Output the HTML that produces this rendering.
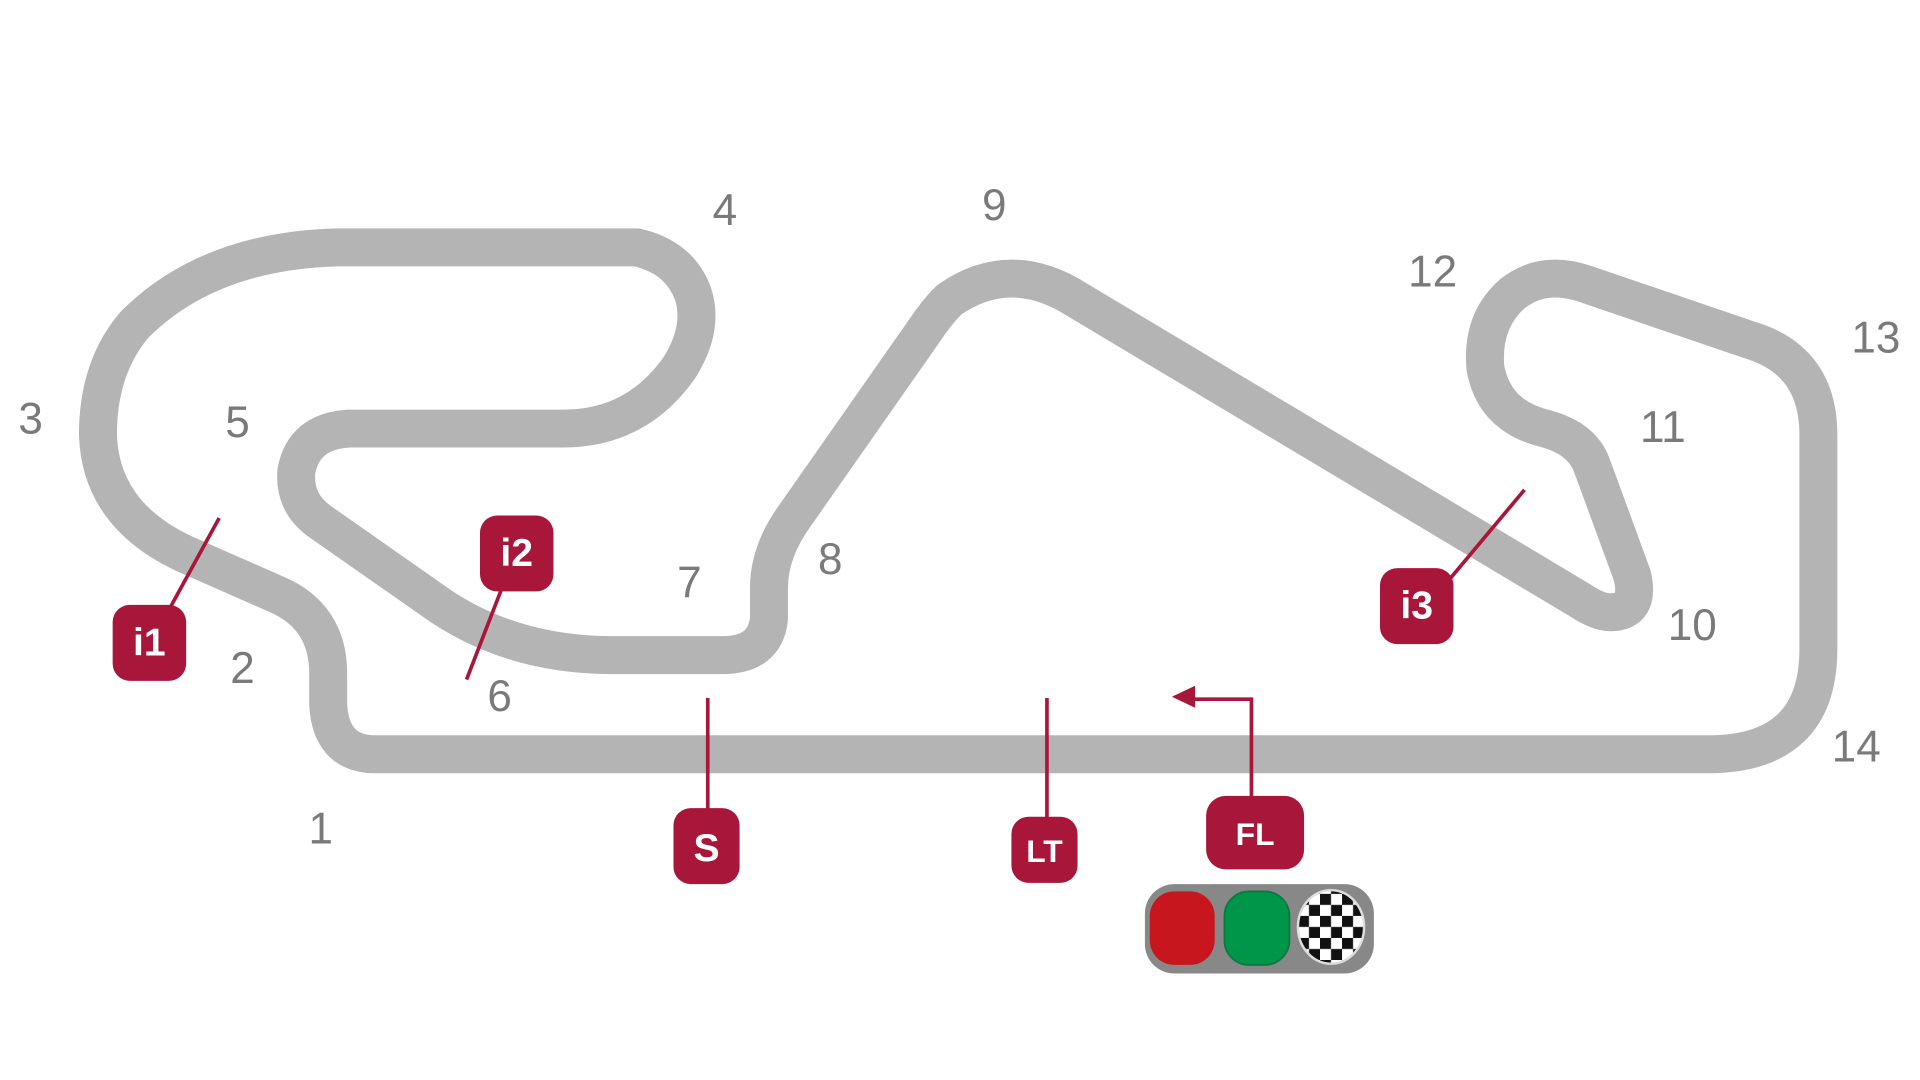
<!DOCTYPE html>
<html><head><meta charset="utf-8"><style>
html,body{margin:0;padding:0;background:#fff;width:1920px;height:1080px;overflow:hidden}
svg{display:block}
.n{font-family:"Liberation Sans",sans-serif;font-size:36px;fill:#7a7a7a;text-anchor:middle;dominant-baseline:central}
.m{font-family:"Liberation Sans",sans-serif;font-weight:bold;fill:#fff;text-anchor:middle;dominant-baseline:central}
</style></head><body>
<svg width="1920" height="1080" viewBox="0 0 1568 882" preserveAspectRatio="none">
<defs>
<pattern id="ck" x="1060" y="730" width="18" height="18" patternUnits="userSpaceOnUse">
<rect width="18" height="18" fill="#fff"/><rect width="9" height="9" fill="#111"/><rect x="9" y="9" width="9" height="9" fill="#111"/>
</pattern>
</defs>
<path d="M305 616 L1395 616 Q1485 616 1485 530 L1485 355 Q1485 295 1430 278 L1295 232 Q1260 220 1235 240 Q1210 262 1213 300 Q1220 340 1262 350 Q1292 358 1300 380 L1333 470 Q1340 500 1315 500 Q1305 500 1290 490 L880 245 Q825 210 775 245 Q765 255 755 270 L650 420 Q628 450 628 480 L628 505 Q625 535 590 535 L500 535 Q420 535 360 495 L260 425 Q240 410 242 385 Q248 352 285 350 L460 350 Q520 350 555 300 Q575 268 566 240 Q555 210 520 202 L275 202 Q170 205 110 265 Q80 300 80 355 Q82 420 150 452 L225 485 Q268 503 268 550 L268 575 Q270 615 305 616 Z" fill="none" stroke="#b5b4b5" stroke-width="31" stroke-linejoin="round"/>
<g class="n">
<text x="592" y="172">4</text><text x="812" y="168">9</text><text x="1170" y="222">12</text><text x="1532" y="276">13</text>
<text x="25" y="342">3</text><text x="194" y="345">5</text><text x="1358" y="349">11</text><text x="678" y="457">8</text>
<text x="563" y="476">7</text><text x="1382" y="511">10</text><text x="198" y="546">2</text><text x="408" y="569">6</text>
<text x="1516" y="610">14</text><text x="262" y="677">1</text>
</g>
<g stroke="#a8173a" stroke-width="3" fill="none">
<line x1="138" y1="498" x2="179" y2="423"/>
<line x1="410" y1="480" x2="381" y2="555"/>
<line x1="1183" y1="474" x2="1245" y2="400"/>
<line x1="578" y1="570" x2="578" y2="665"/>
<line x1="855" y1="570" x2="855" y2="670"/>
<polyline points="1022,655 1022,571 972,571"/>
</g>
<polygon points="957,569 976,560 976,578" fill="#a8173a"/>
<g fill="#a8173a">
<rect x="92" y="494" width="60" height="62" rx="14"/>
<rect x="392" y="421" width="60" height="62" rx="14"/>
<rect x="1127" y="464" width="60" height="62" rx="14"/>
<rect x="550" y="660" width="54" height="62" rx="14"/>
<rect x="826" y="667" width="54" height="54" rx="14"/>
<rect x="985" y="650" width="80" height="60" rx="16"/>
</g>
<g class="m">
<text x="122" y="525" font-size="32">i1</text>
<text x="422" y="452" font-size="32">i2</text>
<text x="1157" y="495" font-size="32">i3</text>
<text x="577" y="693" font-size="32">S</text>
<text x="853" y="695" font-size="26">LT</text>
<text x="1025" y="681" font-size="26">FL</text>
</g>
<rect x="935" y="722" width="187" height="73" rx="24" fill="#888"/>
<rect x="939" y="728" width="53" height="60" rx="20" fill="#c8161e"/>
<rect x="1000" y="728" width="53" height="60" rx="20" fill="#00964a" stroke="#0a7a3c" stroke-width="1.5"/>
<ellipse cx="1087" cy="757" rx="27" ry="30" fill="url(#ck)" stroke="#ddd" stroke-width="2"/>
</svg>
</body></html>
